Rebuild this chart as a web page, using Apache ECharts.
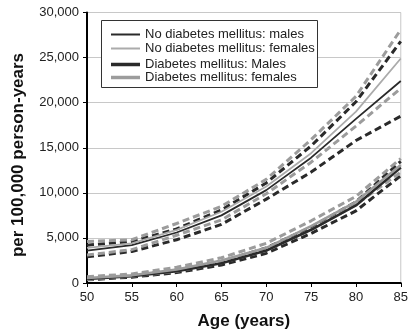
<!DOCTYPE html>
<html>
<head>
<meta charset="utf-8">
<script src="https://cdn.jsdelivr.net/npm/echarts@6/dist/echarts.min.js"></script>
<style>html,body{margin:0;padding:0;background:#fff}#c{width:411px;height:335px}</style>
</head>
<body>
<div id="c"></div>
<script>
const ages = [50, 55, 60, 65, 70, 75, 80, 85];
const yTicks = [0, 5000, 10000, 15000, 20000, 25000, 30000];

// No diabetes mellitus
const noDmMales        = [3600, 4200, 5600, 7500, 10300, 13900, 18200, 22400];
const noDmMalesUpper   = [4200, 4600, 6000, 8100, 11100, 15200, 20100, 26800];
const noDmMalesLower   = [2900, 3500, 4800, 6500, 9300, 12300, 15800, 18500];
const noDmFemales      = [3900, 4400, 5900, 7900, 10700, 14400, 19000, 24900];
const noDmFemalesUpper = [4600, 4800, 6600, 8500, 11500, 15900, 20700, 28100];
const noDmFemalesLower = [3100, 3700, 5300, 7000, 9900, 13400, 17400, 21600];

// Diabetes mellitus
const dmMales          = [450, 750, 1300, 2200, 3600, 5900, 8600, 12800];
const dmMalesUpper     = [550, 850, 1450, 2400, 3900, 6200, 9000, 13500];
const dmMalesLower     = [350, 650, 1150, 2000, 3300, 5500, 8000, 11900];
const dmFemales        = [550, 850, 1500, 2500, 3900, 6300, 9000, 13100];
const dmFemalesUpper   = [700, 1000, 1750, 2800, 4400, 6900, 9600, 13800];
const dmFemalesLower   = [400, 750, 1300, 2250, 3600, 5900, 8700, 12300];

const DARK = '#2a2a2a', GRAY = '#9c9c9c', LIGHT = '#ababab';
const FONT = '"Liberation Sans", Arial, sans-serif';

function pairs(arr) { return ages.map((a, i) => [a, arr[i]]); }
function solid(name, data, color, width) {
  return { name, type: 'line', data: pairs(data), showSymbol: false, symbol: 'none',
    lineStyle: { color, width, type: 'solid' }, itemStyle: { color }, z: 3 };
}
function dashed(name, data, color) {
  return { name, type: 'line', data: pairs(data), showSymbol: false, symbol: 'none',
    lineStyle: { color, width: 3, type: [7, 4] }, itemStyle: { color }, z: 2 };
}

const chart = echarts.init(document.getElementById('c'), null, { renderer: 'canvas' });
chart.setOption({
  animation: false,
  backgroundColor: '#fff',
  grid: { left: 87, right: 6, top: 12.5, bottom: 52, show: true, borderColor: '#c8c8c8', borderWidth: 1 },
  xAxis: {
    type: 'value', min: 50, max: 85, interval: 5,
    name: 'Age (years)', nameLocation: 'middle', nameGap: 30,
    nameTextStyle: { fontFamily: FONT, fontSize: 17, fontWeight: 'bold', color: '#111' },
    axisLine: { show: true, onZero: false, lineStyle: { color: '#000', width: 2 } },
    axisTick: { show: true, length: 4, lineStyle: { color: '#000', width: 1 } },
    axisLabel: { fontFamily: FONT, fontSize: 13, color: '#222', margin: 8 },
    splitLine: { show: false }
  },
  yAxis: {
    type: 'value', min: 0, max: 30000, interval: 5000,
    axisLine: { show: true, lineStyle: { color: '#000', width: 2 } },
    axisTick: { show: true, length: 4, lineStyle: { color: '#000', width: 1 } },
    axisLabel: { fontFamily: FONT, fontSize: 13, color: '#222', margin: 8,
      formatter: v => yTicks.includes(v) ? v.toLocaleString('en-US') : '' },
    splitLine: { show: true, lineStyle: { color: '#c8c8c8', width: 1 } }
  },
  graphic: [{
    type: 'rect', z: 3, shape: { x: 101.5, y: 20.5, width: 216, height: 67 },
    style: { fill: '#fff', stroke: '#333', lineWidth: 1 }
  }, {
    type: 'text', z: 3, x: 18, y: 155, rotation: Math.PI / 2,
    style: { text: 'per 100,000 person-years', fontFamily: FONT, fontSize: 17, fontWeight: 'bold',
      fill: '#111', align: 'center', verticalAlign: 'middle' }
  }],
  legend: [{
    orient: 'vertical', left: 106, top: 23, itemWidth: 29, itemHeight: 2, itemGap: 1,
    icon: 'rect', z: 5,
    textStyle: { fontFamily: FONT, fontSize: 13, color: '#222' },
    data: ['No diabetes mellitus: males', 'No diabetes mellitus: females']
  }, {
    orient: 'vertical', left: 106, top: 53, itemWidth: 29, itemHeight: 3.5, itemGap: 0,
    icon: 'rect', z: 5,
    textStyle: { fontFamily: FONT, fontSize: 13, color: '#222' },
    data: ['Diabetes mellitus: Males', 'Diabetes mellitus: females']
  }],
  series: [
    dashed('nd_m_u', noDmMalesUpper, DARK),
    dashed('nd_m_l', noDmMalesLower, DARK),
    dashed('nd_f_u', noDmFemalesUpper, GRAY),
    dashed('nd_f_l', noDmFemalesLower, GRAY),
    dashed('dm_m_u', dmMalesUpper, DARK),
    dashed('dm_m_l', dmMalesLower, DARK),
    dashed('dm_f_u', dmFemalesUpper, GRAY),
    dashed('dm_f_l', dmFemalesLower, GRAY),
    solid('No diabetes mellitus: males', noDmMales, DARK, 1.8),
    solid('No diabetes mellitus: females', noDmFemales, LIGHT, 1.8),
    solid('Diabetes mellitus: Males', dmMales, DARK, 2.6),
    solid('Diabetes mellitus: females', dmFemales, GRAY, 2.6)
  ]
});
</script>
</body>
</html>
